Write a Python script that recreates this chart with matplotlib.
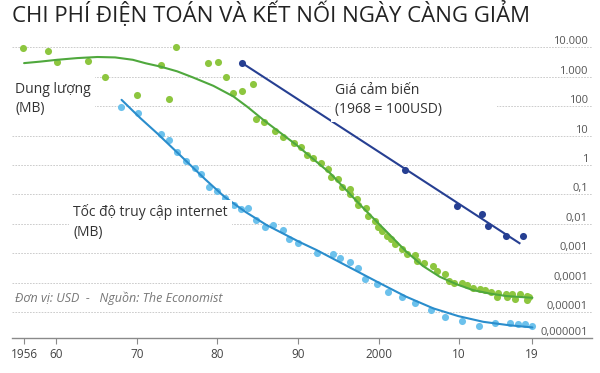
import matplotlib
matplotlib.use("Agg")
import matplotlib.pyplot as plt

plt.rcParams['font.family'] = ['Open Sans', 'DejaVu Sans']

# Dung lượng (MB) - điểm và đường xu hướng
nam_dung_luong = [1955.9, 1959.0, 1960.1, 1963.9, 1966.0, 1970.0, 1973.0, 1974.0, 1974.9, 1978.8,
                  1980.1, 1981.1, 1981.9, 1983.0, 1984.4, 1984.8, 1985.8, 1987.1, 1988.1, 1989.5,
                  1990.4, 1991.1, 1991.9, 1992.8, 1993.7, 1994.1, 1995.0, 1995.5, 1996.4, 1996.5,
                  1997.3, 1997.5, 1998.4, 1998.7, 1999.5, 1999.9, 2000.4, 2001.0, 2001.5, 2002.0,
                  2002.9, 2003.5, 2004.5, 2004.8, 2005.6, 2006.7, 2007.2, 2008.2, 2008.8, 2009.4,
                  2010.3, 2011.0, 2011.7, 2012.6, 2013.2, 2014.0, 2014.8, 2014.7, 2015.8, 2015.9,
                  2016.6, 2017.0, 2017.6, 2018.4, 2018.4, 2018.7]
gia_dung_luong = [9550, 7590, 3240, 3470, 1000, 240, 2510, 178, 10500, 2950,
                  3240, 1000, 282, 316, 562, 35.5, 28.2, 14.8, 9.1, 5.75,
                  4.17, 2.14, 1.70, 1.17, 0.741, 0.398, 0.331, 0.182, 0.151, 0.100,
                  0.0676, 0.0437, 0.0339, 0.0191, 0.0129, 0.00794, 0.00575, 0.00389, 0.00295, 0.00214,
                  0.00141, 0.000933, 0.000891, 0.00055, 0.000479, 0.000363, 0.000257, 0.000191, 0.000112, 0.0001,
                  9.55e-5, 8.32e-5, 6.61e-5, 5.89e-5, 5.50e-5, 4.90e-5, 4.37e-5, 3.39e-5, 4.07e-5, 3.16e-5,
                  4.07e-5, 2.69e-5, 3.98e-5, 3.55e-5, 2.57e-5, 3.39e-5]
nam_xu_huong_dl = [1956.0, 1958.0, 1960.1, 1962.6, 1965.1, 1967.3, 1969.5, 1971.1, 1972.9, 1975.0,
                   1977.0, 1979.5, 1982.0, 1983.8, 1985.7, 1989.8, 1994.0, 1998.1, 2003.5, 2005.5,
                   2007.6, 2009.7, 2011.7, 2013.8, 2015.9, 2019.1]
xu_huong_dl = [2900, 3260, 3760, 4300, 4680, 4530, 3760, 2860, 2220, 1525,
               938, 490, 212, 91, 34.1, 4.82, 0.525, 0.0346, 0.0011, 3.72e-4,
               1.59e-4, 8.83e-5, 5.61e-5, 4.27e-5, 3.51e-5, 3.07e-5]

# Tốc độ truy cập internet (MB)
nam_internet = [1968.0, 1970.1, 1973.0, 1974.0, 1975.0, 1976.1, 1977.2, 1978.0, 1978.9, 1979.9,
                1981.0, 1982.0, 1982.9, 1983.8, 1984.8, 1985.9, 1986.9, 1988.2, 1988.9, 1990.0,
                1992.4, 1994.3, 1995.2, 1996.4, 1997.4, 1998.3, 1999.8, 2001.2, 2002.9, 2004.5,
                2006.5, 2008.2, 2010.4, 2012.5, 2014.4, 2016.3, 2017.3, 2018.2, 2019.0]
gia_internet = [97, 58, 11, 7.1, 2.8, 1.4, 0.78, 0.49, 0.18, 0.126,
                0.077, 0.044, 0.031, 0.034, 0.0135, 0.0076, 0.0091, 0.0062, 0.0030, 0.0023,
                0.00105, 0.00096, 0.00071, 0.0005, 0.00032, 0.000135, 8.9e-5, 4.7e-5, 3.3e-5, 2.09e-5,
                1.17e-5, 6.6e-6, 5.0e-6, 3.3e-6, 4.4e-6, 4.3e-6, 4.1e-6, 3.9e-6, 3.4e-6]
nam_xu_huong_it = [1968.1, 1970.4, 1972.5, 1976.2, 1978.5, 1980.9, 1983.5, 1986.1, 1990.2, 1992.3,
                   2000.2, 2003.4, 2006.8, 2009.9, 2013.0, 2016.1, 2019.1]
xu_huong_it = [164, 39.9, 12.05, 1.30, 0.323, 0.0818, 0.0253, 0.00912, 0.00241, 0.00129,
               9.48e-5, 3.37e-5, 1.34e-5, 7.31e-6, 4.68e-6, 3.61e-6, 3.02e-6]

# Giá cảm biến (1968 = 100USD)
nam_cam_bien = [1983.0, 2003.3, 2009.8, 2012.8, 2013.6, 2015.8, 2017.9]
gia_cam_bien = [3000, 0.68, 0.041, 0.021, 0.0085, 0.0039, 0.0039]
nam_xu_huong_cb = [1983.0, 2017.5]
xu_huong_cb = [3000, 0.0022]

moc_y = [1e4, 1e3, 1e2, 1e1, 1, 0.1, 0.01, 0.001, 1e-4, 1e-5, 1e-6]
nhan_y = ["10.000", "1.000", "100", "10", "1", "0,1", "0,01", "0,001", "0,0001", "0,00001", "0,000001"]
moc_x = [1956, 1960, 1970, 1980, 1990, 2000, 2010, 2019]
nhan_x = ["1956", "60", "70", "80", "90", "2000", "10", "19"]

XANH_LA_DIEM = '#8dc63f'
XANH_LA_DUONG = '#4fa83d'
XANH_NHAT_DIEM = '#6cc1ec'
XANH_NHAT_DUONG = '#2a8dcc'
XANH_DAM = '#263f92'

W, H = 600, 373
fig = plt.figure(figsize=(W / 100, H / 100), dpi=100)
ax = fig.add_axes([12 / W, 1 - 338 / H, 580 / W, 301 / H])
ax.set_yscale('log')
ax.set_xlim(1954.5, 2026.5)
ylo, yhi = 10 ** -5.88, 10 ** 4.35
ax.set_ylim(ylo, yhi)

# Lưới ngang đứt nét
for v in moc_y[:-1]:
    ax.axhline(v, color='#c4c4c4', lw=0.6, ls=(0, (2, 1.5)), zorder=1)

# Nhãn trục y ở bên phải, nằm trên đường lưới
for v, t in zip(moc_y, nhan_y):
    yy = max(v, ylo)
    ax.text(0.993, yy, t, transform=ax.get_yaxis_transform(), ha='right', va='bottom',
            fontsize=8, color='#555555', zorder=2)

ax.set_yticks([])
ax.yaxis.set_minor_locator(matplotlib.ticker.NullLocator())

# Điểm
ax.scatter(nam_dung_luong, gia_dung_luong, s=26, color=XANH_LA_DIEM, lw=0, zorder=3)
ax.scatter(nam_internet, gia_internet, s=26, color=XANH_NHAT_DIEM, lw=0, zorder=3)
ax.scatter(nam_cam_bien, gia_cam_bien, s=26, color=XANH_DAM, lw=0, zorder=3)

# Đường xu hướng
ax.plot(nam_xu_huong_dl, xu_huong_dl, color=XANH_LA_DUONG, lw=1.5, zorder=4,
        solid_capstyle='round', solid_joinstyle='round')
ax.plot(nam_xu_huong_it, xu_huong_it, color=XANH_NHAT_DUONG, lw=1.5, zorder=4,
        solid_capstyle='round', solid_joinstyle='round')
ax.plot(nam_xu_huong_cb, xu_huong_cb, color=XANH_DAM, lw=1.5, zorder=4)

# Trục x
for s in ['top', 'left', 'right']:
    ax.spines[s].set_visible(False)
ax.spines['bottom'].set_color('#8a8a8a')
ax.spines['bottom'].set_linewidth(1)
ax.set_xticks(moc_x)
ax.set_xticklabels(nhan_x)
ax.tick_params(axis='x', direction='out', length=4, width=0.8, color='#8a8a8a',
               labelsize=8.5, labelcolor='#444444', pad=3)

# Chú thích các đường
hop = dict(facecolor='white', edgecolor='none', pad=3)
fig.text(15 / W, 1 - 99 / H, "Dung lượng\n(MB)", ha='left', va='center', fontsize=10,
         color='#333333', linespacing=1.45, bbox=hop, zorder=2)
fig.text(335 / W, 1 - 100 / H, "Giá cảm biến\n(1968 = 100USD)              ", ha='left', va='center',
         fontsize=10, color='#333333', linespacing=1.45, bbox=hop, zorder=2)
fig.text(73 / W, 1 - 222 / H, "Tốc độ truy cập internet\n(MB)", ha='left', va='center', fontsize=10,
         color='#333333', linespacing=1.45, bbox=hop, zorder=2)

fig.text(15 / W, 1 - 298 / H, "Đơn vị: USD  -   Nguồn: The Economist", ha='left', va='center',
         fontsize=9, style='italic', color='#777777')

fig.text(12 / W, 1 - 22 / H, "CHI PHÍ ĐIỆN TOÁN VÀ KẾT NỐI NGÀY CÀNG GIẢM", ha='left', va='baseline',
         fontsize=16, color='#222222')

fig.savefig('out.png', dpi=100)
